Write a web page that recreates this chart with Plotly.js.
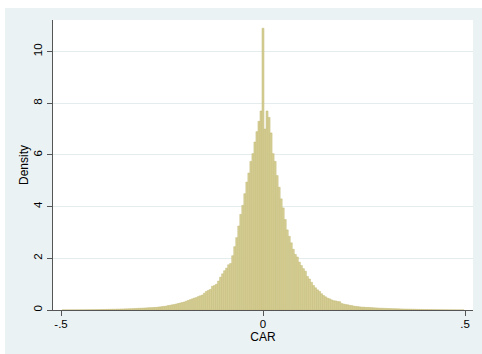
<!DOCTYPE html>
<html>
<head>
<meta charset="utf-8">
<script src="https://cdn.plot.ly/plotly-3.0.1.min.js"></script>
<style>
html,body{margin:0;padding:0;background:#ffffff;width:482px;height:354px;overflow:hidden;}
#chart{position:absolute;left:5px;top:8px;width:477px;height:346px;}
</style>
</head>
<body>
<div id="chart"></div>
<script>
// Histogram of CAR: bin width and centre of first bin
var binWidth = 0.005;
var firstBinCenter = -0.495;
// Density per bin, from CAR = -0.495 to 0.495
var densityValues = [
  0.002,0.002,0.003,0.003,0.003,0.004,0.004,0.005,0.005,
  0.006,0.007,0.008,0.008,0.009,0.01,0.011,0.012,0.014,0.015,
  0.018,0.02,0.02,0.025,0.025,0.028,0.03,0.03,0.035,0.035,
  0.04,0.04,0.045,0.045,0.05,0.05,0.055,0.06,0.065,0.068,
  0.07,0.075,0.08,0.085,0.09,0.09,0.1,0.1,0.11,0.12,
  0.13,0.14,0.15,0.17,0.18,0.2,0.21,0.23,0.25,0.27,
  0.29,0.31,0.34,0.37,0.4,0.43,0.46,0.48,0.52,0.55,
  0.58,0.65,0.72,0.76,0.8,0.92,0.95,1.0,1.12,1.27,
  1.4,1.52,1.62,1.75,1.8,2.1,2.45,2.8,3.25,3.7,
  4.05,4.5,4.95,5.3,5.75,6.05,6.5,6.9,7.3,7.7,
  10.9,
  7.0,7.7,7.45,6.85,6.05,5.75,5.2,4.75,4.3,3.95,
  3.5,3.1,2.85,2.6,2.35,2.15,2.05,1.85,1.72,1.6,
  1.5,1.3,1.2,1.07,0.95,0.86,0.78,0.72,0.63,0.56,
  0.51,0.46,0.43,0.39,0.36,0.35,0.33,0.32,0.25,0.23,
  0.21,0.2,0.18,0.17,0.15,0.14,0.13,0.12,0.11,0.11,
  0.1,0.1,0.095,0.09,0.085,0.08,0.075,0.07,0.068,0.065,
  0.06,0.058,0.055,0.052,0.05,0.048,0.045,0.042,0.04,0.038,
  0.036,0.034,0.032,0.03,0.028,0.026,0.024,0.022,0.02,0.019,
  0.018,0.016,0.015,0.014,0.012,0.011,0.01,0.009,0.008,0.007,
  0.006,0.005,0.005,0.004,0.004,0.003,0.003,0.002,0.002
];
var xTickValues = [-0.5, 0, 0.5];
var xTickLabels = ["-.5", "0", ".5"];
var yTickValues = [0, 2, 4, 6, 8, 10];
var yTickLabels = ["0", "2", "4", "6", "8", "10"];
var xTitle = "CAR";
var yTitle = "Density";

var trace = {
  type: "bar",
  x0: firstBinCenter,
  dx: binWidth,
  y: densityValues,
  width: binWidth,
  marker: {color: "rgb(213,206,148)", line: {color: "rgb(196,187,120)", width: 0.5}},
  hoverinfo: "skip"
};

var fontFam = "'Liberation Sans', Arial, sans-serif";
var layout = {
  width: 477, height: 346,
  margin: {l: 48, r: 9, t: 12, b: 44, pad: 0},
  paper_bgcolor: "#eaf2f3",
  plot_bgcolor: "#ffffff",
  showlegend: false,
  bargap: 0,
  font: {family: fontFam, color: "#000000", size: 11.5},
  xaxis: {
    range: [-0.5198, 0.5198],
    tickvals: xTickValues, ticktext: xTickLabels,
    ticks: "outside", ticklen: 5, tickwidth: 1, tickcolor: "#555555",
    ticklabelstandoff: -2,
    showline: true, linecolor: "#555555", linewidth: 1,
    showgrid: false, zeroline: false,
    tickfont: {family: fontFam, size: 11.5, color: "#000"},
    title: {text: xTitle, font: {family: fontFam, size: 12, color: "#000"}, standoff: 0},
    automargin: false, fixedrange: true
  },
  yaxis: {
    range: [0, 11.22],
    tickvals: yTickValues, ticktext: yTickLabels,
    tickangle: -90,
    ticks: "outside", ticklen: 5, tickwidth: 1, tickcolor: "#555555",
    showline: true, linecolor: "#555555", linewidth: 1,
    showgrid: true, gridcolor: "#e4ecee", gridwidth: 1,
    zeroline: false,
    tickfont: {family: fontFam, size: 11.5, color: "#000"},
    title: {text: yTitle, font: {family: fontFam, size: 12, color: "#000"}, standoff: 1},
    automargin: false, fixedrange: true
  }
};

Plotly.newPlot("chart", [trace], layout, {displayModeBar: false, staticPlot: true});
</script>
</body>
</html>
